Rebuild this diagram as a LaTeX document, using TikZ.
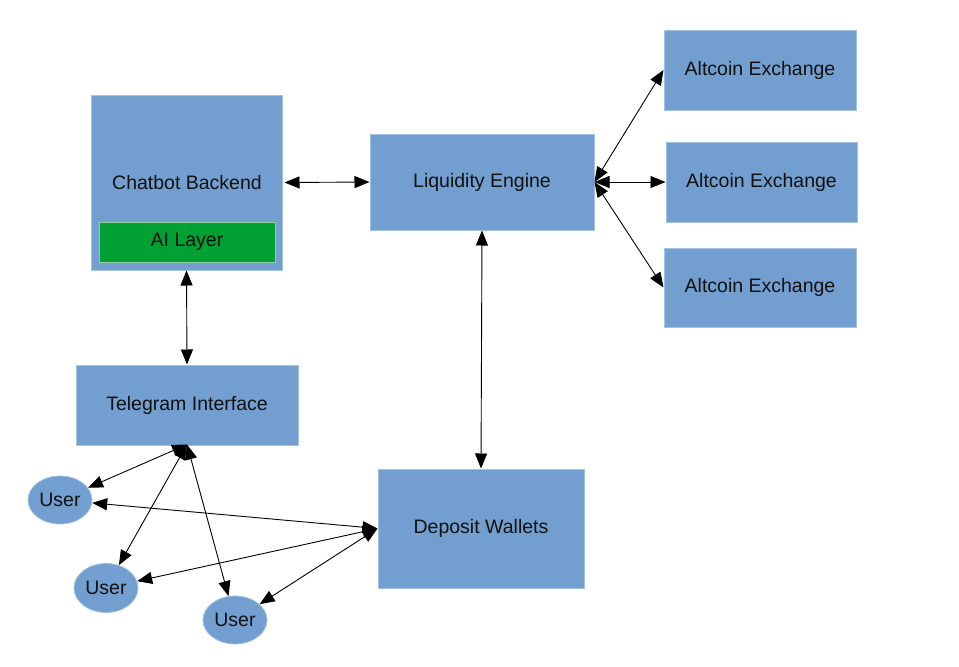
\documentclass[tikz,border=0pt]{standalone}
\usepackage{fontspec}
\setmainfont{Liberation Sans}
\usetikzlibrary{arrows.meta,shapes.geometric}
\definecolor{boxblue}{HTML}{729FCF}
\definecolor{boxedge}{HTML}{A4C2E4}
\definecolor{aigreen}{HTML}{00A033}
\definecolor{aiedge}{HTML}{8FD0A0}
\definecolor{txt}{HTML}{111111}
\begin{document}
\begin{tikzpicture}[x=1pt,y=-1pt,
  box/.style={rectangle,fill=boxblue,draw=boxedge,line width=1pt,inner sep=0pt,
    font=\fontsize{19.5}{23}\selectfont,text=txt},
  user/.style={ellipse,fill=boxblue,draw=boxedge,line width=0.8pt,inner sep=0pt,
    minimum width=64pt,minimum height=48pt,font=\fontsize{19.5}{23}\selectfont,text=txt},
  link/.style={draw=black,line width=0.9pt,{Triangle[length=15pt,width=12pt]}-{Triangle[length=15pt,width=12pt]}}]
\useasboundingbox (0,0) rectangle (959,667);
% boxes
\node[box,minimum width=191pt,minimum height=175pt] (cb) at (186.5,182.5) {};
\node[font=\fontsize{19.5}{23}\selectfont,text=txt] (cbt) at (187,183) {Chatbot Backend};
\node[box,fill=aigreen,draw=aiedge,minimum width=176pt,minimum height=40pt] (ai) at (187,242) {\raisebox{-1.5pt}{AI Layer}};
\node[box,minimum width=224pt,minimum height=96pt] (le) at (482,182) {\raisebox{-1.5pt}{Liquidity Engine}};
\node[box,minimum width=192pt,minimum height=80pt] (ae1) at (760,70) {\raisebox{-1.5pt}{Altcoin Exchange}};
\node[box,minimum width=191pt,minimum height=80pt] (ae2) at (761.5,182) {\raisebox{-1.5pt}{Altcoin Exchange}};
\node[box,minimum width=192pt,minimum height=79pt] (ae3) at (760,287.5) {\raisebox{-1.5pt}{Altcoin Exchange}};
\node[box,minimum width=222pt,minimum height=80pt] (tg) at (187,405) {\raisebox{-1.5pt}{Telegram Interface}};
\node[box,minimum width=206pt,minimum height=119pt] (dw) at (481,528.5) {\raisebox{-1.5pt}{Deposit Wallets}};
\node[user] (u1) at (60,500) {User};
\node[user,minimum height=49pt] (u2) at (106,588) {User};
\node[user] (u3) at (235,620) {User};
% connectors
\draw[link] ([xshift=2pt]cb.east) -- (le.west);
\draw[link] (cb.south) -- (tg.north);
\draw[link] (le.south) -- (dw.north);
\draw[link] (le.east) -- (ae1.west);
\draw[link] (le.east) -- (ae2.west);
\draw[link] (le.east) -- (ae3.west);
\draw[link] ([yshift=1pt]tg.south) -- (u1);
\draw[link] ([yshift=1pt]tg.south) -- (u2);
\draw[link] ([yshift=1pt]tg.south) -- (u3);
\draw[link] (dw.west) -- (u1);
\draw[link] (dw.west) -- (u2);
\draw[link] (dw.west) -- (u3);
\end{tikzpicture}
\end{document}
